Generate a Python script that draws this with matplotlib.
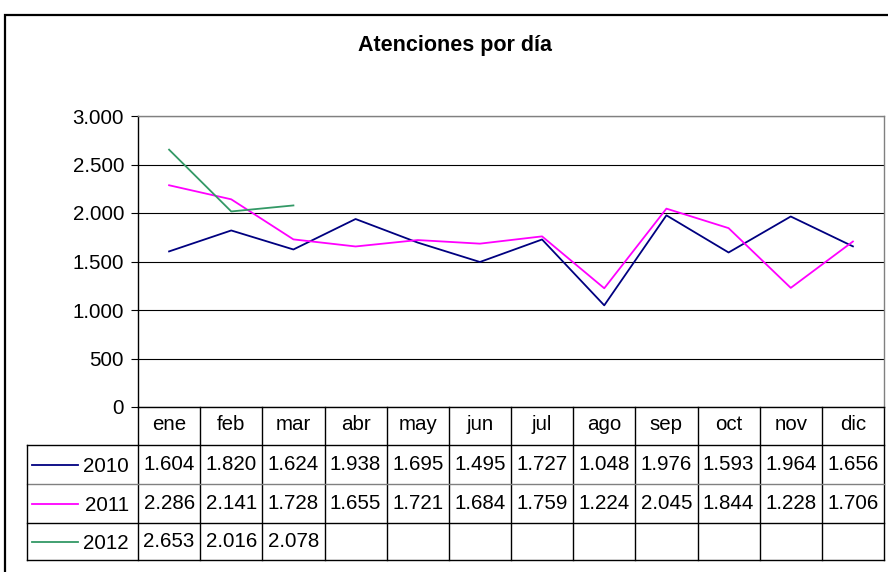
import numpy as np
import matplotlib.pyplot as plt
from matplotlib.transforms import blended_transform_factory
from matplotlib.patches import Rectangle

plt.rcParams['font.family'] = ['Liberation Sans', 'DejaVu Sans']

## Data
meses = ['ene', 'feb', 'mar', 'abr', 'may', 'jun', 'jul', 'ago', 'sep', 'oct', 'nov', 'dic']
v2010 = [1604, 1820, 1624, 1938, 1695, 1495, 1727, 1048, 1976, 1593, 1964, 1656]
v2011 = [2286, 2141, 1728, 1655, 1721, 1684, 1759, 1224, 2045, 1844, 1228, 1706]
v2012 = [2653, 2016, 2078]
anios = ['2010', '2011', '2012']
colores = ['#000080', '#FF00FF', '#339966']
yticks = [0, 500, 1000, 1500, 2000, 2500, 3000]
ytick_labels = ['0', '500', '1.000', '1.500', '2.000', '2.500', '3.000']

W, H = 888, 572
fig = plt.figure(figsize=(W / 100, H / 100), dpi=100)
fs = 14.8

def fx(px):
    return px / W

def fy(py):
    return 1 - py / H

## Plot area
ax = fig.add_axes([fx(138), fy(407), (884 - 138) / W, (407 - 116) / H])
x = np.arange(len(meses))
for vals, col in zip([v2010, v2011, v2012], colores):
    ax.plot(x[:len(vals)], vals, color=col, lw=1.3)

ax.set_xlim(-0.5, 11.5)
ax.set_ylim(0, 3000)
ax.set_yticks(yticks, ytick_labels)
ax.set_xticks([])
ax.yaxis.grid(True, color='black', lw=0.8)
ax.set_axisbelow(True)
for s in ['top', 'right']:
    ax.spines[s].set_color('#808080')
    ax.spines[s].set_linewidth(1.0)
ax.spines['left'].set_linewidth(1.0)
ax.spines['bottom'].set_linewidth(1.0)
ax.tick_params(axis='y', length=5, width=0.8, labelsize=fs, pad=5)

## Data table
tr = blended_transform_factory(ax.transData, fig.transFigure)
row_edges = [407, 445, 484, 523, 560]
for i in range(len(meses) + 1):
    ax.plot([i - 0.5, i - 0.5], [fy(407), fy(560)], color='black', lw=1.0,
            transform=tr, clip_on=False)
for yy in row_edges[1:]:
    c = '#808080' if yy == 484 else 'black'
    ax.plot([fx(27), fx(884)], [fy(yy), fy(yy)], color=c, lw=1.0,
            transform=fig.transFigure, clip_on=False)
ax.plot([fx(27), fx(27)], [fy(445), fy(560)], color='black', lw=1.0,
        transform=fig.transFigure, clip_on=False)

for i, m in enumerate(meses):
    ax.text(i, fy(425), m, transform=tr, ha='center', va='center', fontsize=fs)

for r, (anio, vals, col) in enumerate(zip(anios, [v2010, v2011, v2012], colores)):
    yc = fy((row_edges[r + 1] + row_edges[r + 2]) / 2)
    ax.plot([fx(32), fx(78)], [yc, yc], color=col, lw=1.3,
            transform=fig.transFigure, clip_on=False)
    fig.text(fx(129), yc - 2 / H, anio, ha='right', va='center', fontsize=fs)
    for i, v in enumerate(vals):
        ax.text(i, yc, f'{v:,}'.replace(',', '.'), transform=tr,
                ha='center', va='center', fontsize=fs)

## Title and chart border
fig.text(fx(455), fy(46), 'Atenciones por día', ha='center', va='center',
         fontsize=15.5, fontweight='bold')
fig.add_artist(Rectangle((fx(5), -0.1), 2, fy(15) + 0.1, transform=fig.transFigure,
                         fill=False, ec='black', lw=1.6))

fig.savefig('out.png', dpi=100)
